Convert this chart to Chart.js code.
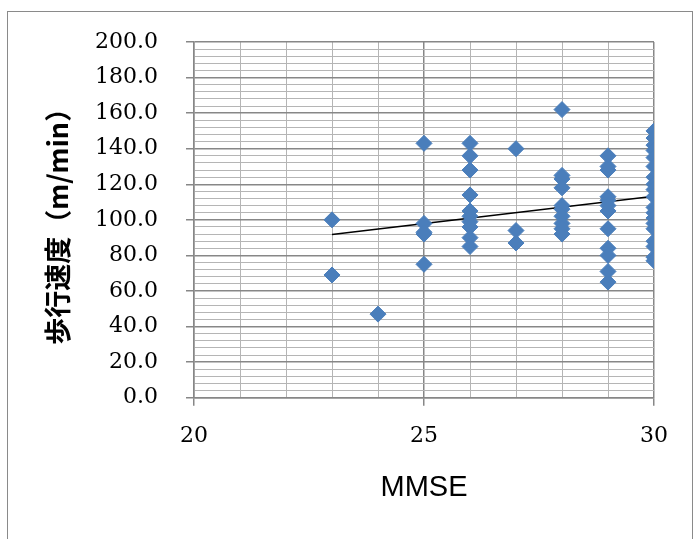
<!DOCTYPE html>
<html>
<head>
<meta charset="utf-8">
<script src="https://cdn.jsdelivr.net/npm/chart.js@4/dist/chart.umd.min.js"></script>
<style>
  html, body { margin: 0; padding: 0; background: #fff; }
  #wrap { position: relative; width: 694px; height: 539px; overflow: hidden; }
  #frame {
    position: absolute; left: 7px; top: 11px; width: 684px; height: 560px;
    border: 1px solid #8a8a8a; pointer-events: none;
  }
</style>
</head>
<body>
<div id="wrap">
  <canvas id="chart" width="694" height="539"></canvas>
  <div id="frame"></div>
</div>
<script>
// MMSE score -> walking speeds (m/min)
const scoreLevels = [23, 24, 25, 26, 27, 28, 29, 30];
const speedsByScore = [
    [100, 69],
    [47],
    [143, 98, 93, 92, 75],
    [143, 136, 128, 114, 105, 102, 99, 96, 90, 85],
    [140, 94, 87],
    [162, 125, 123, 118, 108, 106, 102, 98, 95, 92],
    [136, 130, 128, 113, 111, 108, 105, 95, 84, 80, 71, 65],
    [150, 146, 142, 139, 135, 130, 124, 120, 117, 113, 107, 104, 101, 98, 95, 88, 85, 79, 77]
];

// linear trendline end points
const trendX = [23, 30];
const trendY = [91.8, 113.3];

const yTickLabels = [0, 20, 40, 60, 80, 100, 120, 140, 160, 180, 200];
const xTickLabels = [20, 25, 30];

const MAJOR = '#878787';
const MINOR = '#b5b5b5';

const points = [];
scoreLevels.forEach((s, i) => {
    speedsByScore[i].forEach(v => points.push({ x: s, y: v }));
});

const trend = trendX.map((x, i) => ({ x: x, y: trendY[i] }));

const serif = "'DejaVu Serif', serif";

new Chart(document.getElementById('chart'), {
    type: 'scatter',
    data: {
        datasets: [{
            data: points,
            pointStyle: 'rectRot',
            pointRadius: 8,
            backgroundColor: '#4A7EBB',
            borderColor: '#4A7EBB',
            borderWidth: 1
        }, {
            data: trend,
            showLine: true,
            pointRadius: 0,
            borderColor: '#000',
            borderWidth: 1.5
        }]
    },
    options: {
        responsive: false,
        animation: false,
        layout: { padding: { left: 0, top: 42, right: 40, bottom: 0 } },
        plugins: { legend: { display: false }, tooltip: { enabled: false } },
        scales: {
            x: {
                type: 'linear',
                min: 20,
                max: 30,
                afterFit: (s) => { s.height = 141.3; },
                border: { display: true, color: MAJOR, width: 1.5 },
                grid: {
                    color: (c) => c.tick && c.tick.value % 5 === 0 ? MAJOR : MINOR,
                    lineWidth: (c) => c.tick && c.tick.value % 5 === 0 ? 1.5 : 1,
                    tickColor: (c) => c.tick && c.tick.value % 5 === 0 ? MAJOR : 'rgba(0,0,0,0)',
                    tickLength: 8
                },
                ticks: {
                    stepSize: 1,
                    autoSkip: false,
                    maxRotation: 0,
                    padding: 17,
                    color: '#000',
                    font: { family: serif, size: 22 },
                    callback: (v) => xTickLabels.includes(v) ? String(v) : ''
                },
                title: {
                    display: true,
                    text: 'MMSE',
                    color: '#000',
                    font: { family: "'Liberation Sans', Arial, sans-serif", size: 29 },
                    padding: { top: 0, bottom: 34 }
                }
            },
            y: {
                type: 'linear',
                min: 0,
                max: 200,
                afterFit: (s) => { s.width = 194; },
                border: { display: true, color: MAJOR, width: 1.5 },
                grid: {
                    color: (c) => c.tick && c.tick.value % 20 === 0 ? MAJOR : MINOR,
                    lineWidth: (c) => c.tick && c.tick.value % 20 === 0 ? 1.5 : 1,
                    tickColor: (c) => c.tick && c.tick.value % 20 === 0 ? MAJOR : 'rgba(0,0,0,0)',
                    tickLength: 8
                },
                ticks: {
                    stepSize: 4,
                    autoSkip: false,
                    padding: 28,
                    color: '#000',
                    font: { family: serif, size: 22 },
                    callback: (v) => yTickLabels.includes(v) ? v.toFixed(1) : ''
                },
                title: {
                    display: true,
                    text: '歩行速度（m/min）',
                    color: '#000',
                    font: { family: "'Noto Sans CJK JP', sans-serif", size: 27, weight: 'bold' },
                    padding: { top: 42, bottom: 0 }
                }
            }
        }
    }
});
</script>
</body>
</html>
